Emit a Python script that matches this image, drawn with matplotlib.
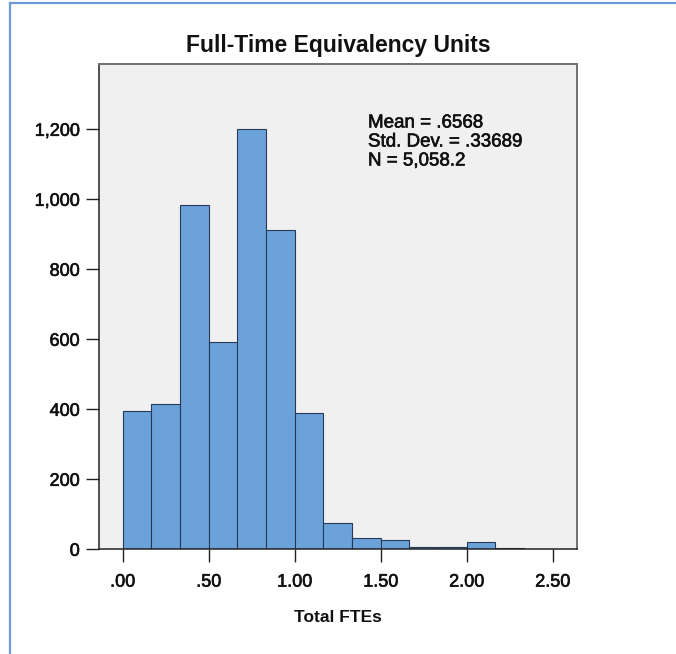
import matplotlib
matplotlib.use("Agg")
import matplotlib.pyplot as plt
from matplotlib.lines import Line2D
import matplotlib.patheffects as pe

plt.rcParams['font.family'] = ['Liberation Sans', 'DejaVu Sans']

# ---- data ----
bin_lefts = [0.0, 1/6, 2/6, 3/6, 4/6, 5/6, 6/6, 7/6, 8/6, 9/6, 10/6, 11/6, 12/6, 13/6, 14/6]
bin_width = 1/6
counts = [396, 416, 983, 593, 1202, 912, 390, 74, 32, 27, 7, 7, 21, 3, 1]
x_ticks = [0.0, 0.5, 1.0, 1.5, 2.0, 2.5]
x_tick_labels = [".00", ".50", "1.00", "1.50", "2.00", "2.50"]
y_ticks = [0, 200, 400, 600, 800, 1000, 1200]
y_tick_labels = ["0", "200", "400", "600", "800", "1,000", "1,200"]
title = "Full-Time Equivalency Units"
x_label = "Total FTEs"
stats_lines = ["Mean = .6568", "Std. Dev. = .33689", "N = 5,058.2"]

W, H = 676, 654
fig = plt.figure(figsize=(W / 100, H / 100), dpi=100)
fig.patch.set_facecolor('white')

def fx(px):
    return px / W

def fy(py):
    return 1 - py / H

heavy = [pe.withStroke(linewidth=0.45, foreground='#111111')]

left, right, top, bottom = 99.3, 577.3, 63.5, 549.3
ax = fig.add_axes([fx(left), fy(bottom), fx(right) - fx(left), fy(top) - fy(bottom)])
ax.set_facecolor('#f0f0f0')

ax.bar(bin_lefts, counts, width=bin_width, align='edge',
       color='#6ca2da', edgecolor='#243a56', linewidth=0.8)

ax.set_xlim(-0.136, 2.643)
ax.set_ylim(0, 1388)
ax.set_xticks(x_ticks)
ax.set_xticklabels(x_tick_labels)
ax.set_yticks(y_ticks)
ax.set_yticklabels(y_tick_labels)
ax.tick_params(axis='both', direction='out', length=9.5, width=1.0,
               color='#222222', labelsize=13, labelcolor='#111111')
ax.tick_params(axis='x', pad=8)
ax.tick_params(axis='y', pad=4.5)
for lab in ax.get_xticklabels() + ax.get_yticklabels():
    lab.set_path_effects(heavy)

for s in ['left', 'bottom']:
    ax.spines[s].set_color('#222222')
    ax.spines[s].set_linewidth(1.1)
for s in ['top', 'right']:
    ax.spines[s].set_color('#707070')
    ax.spines[s].set_linewidth(1.4)

# title and axis label
fig.text(fx(338), fy(52.3), title, ha='center', va='baseline',
         fontsize=16.5, fontweight='bold', color='#111111')
fig.text(fx(338), fy(617), x_label, ha='center', va='center',
         fontsize=12.5, fontweight='bold', color='#111111')

# stats box text
for i, line in enumerate(stats_lines):
    t = fig.text(fx(368), fy(123 + i * 19), line, ha='left', va='center',
                 fontsize=13.5, color='#111111')
    t.set_path_effects(heavy)

# blue outer border (left and top)
fig.add_artist(Line2D([fx(9.5), fx(9.5)], [0, fy(2.5)], transform=fig.transFigure,
                      color='#6d9bd8', linewidth=1.6))
fig.add_artist(Line2D([fx(9.5), 1], [fy(2.5), fy(2.5)], transform=fig.transFigure,
                      color='#6d9bd8', linewidth=1.6))

fig.savefig('out.png', dpi=100)
